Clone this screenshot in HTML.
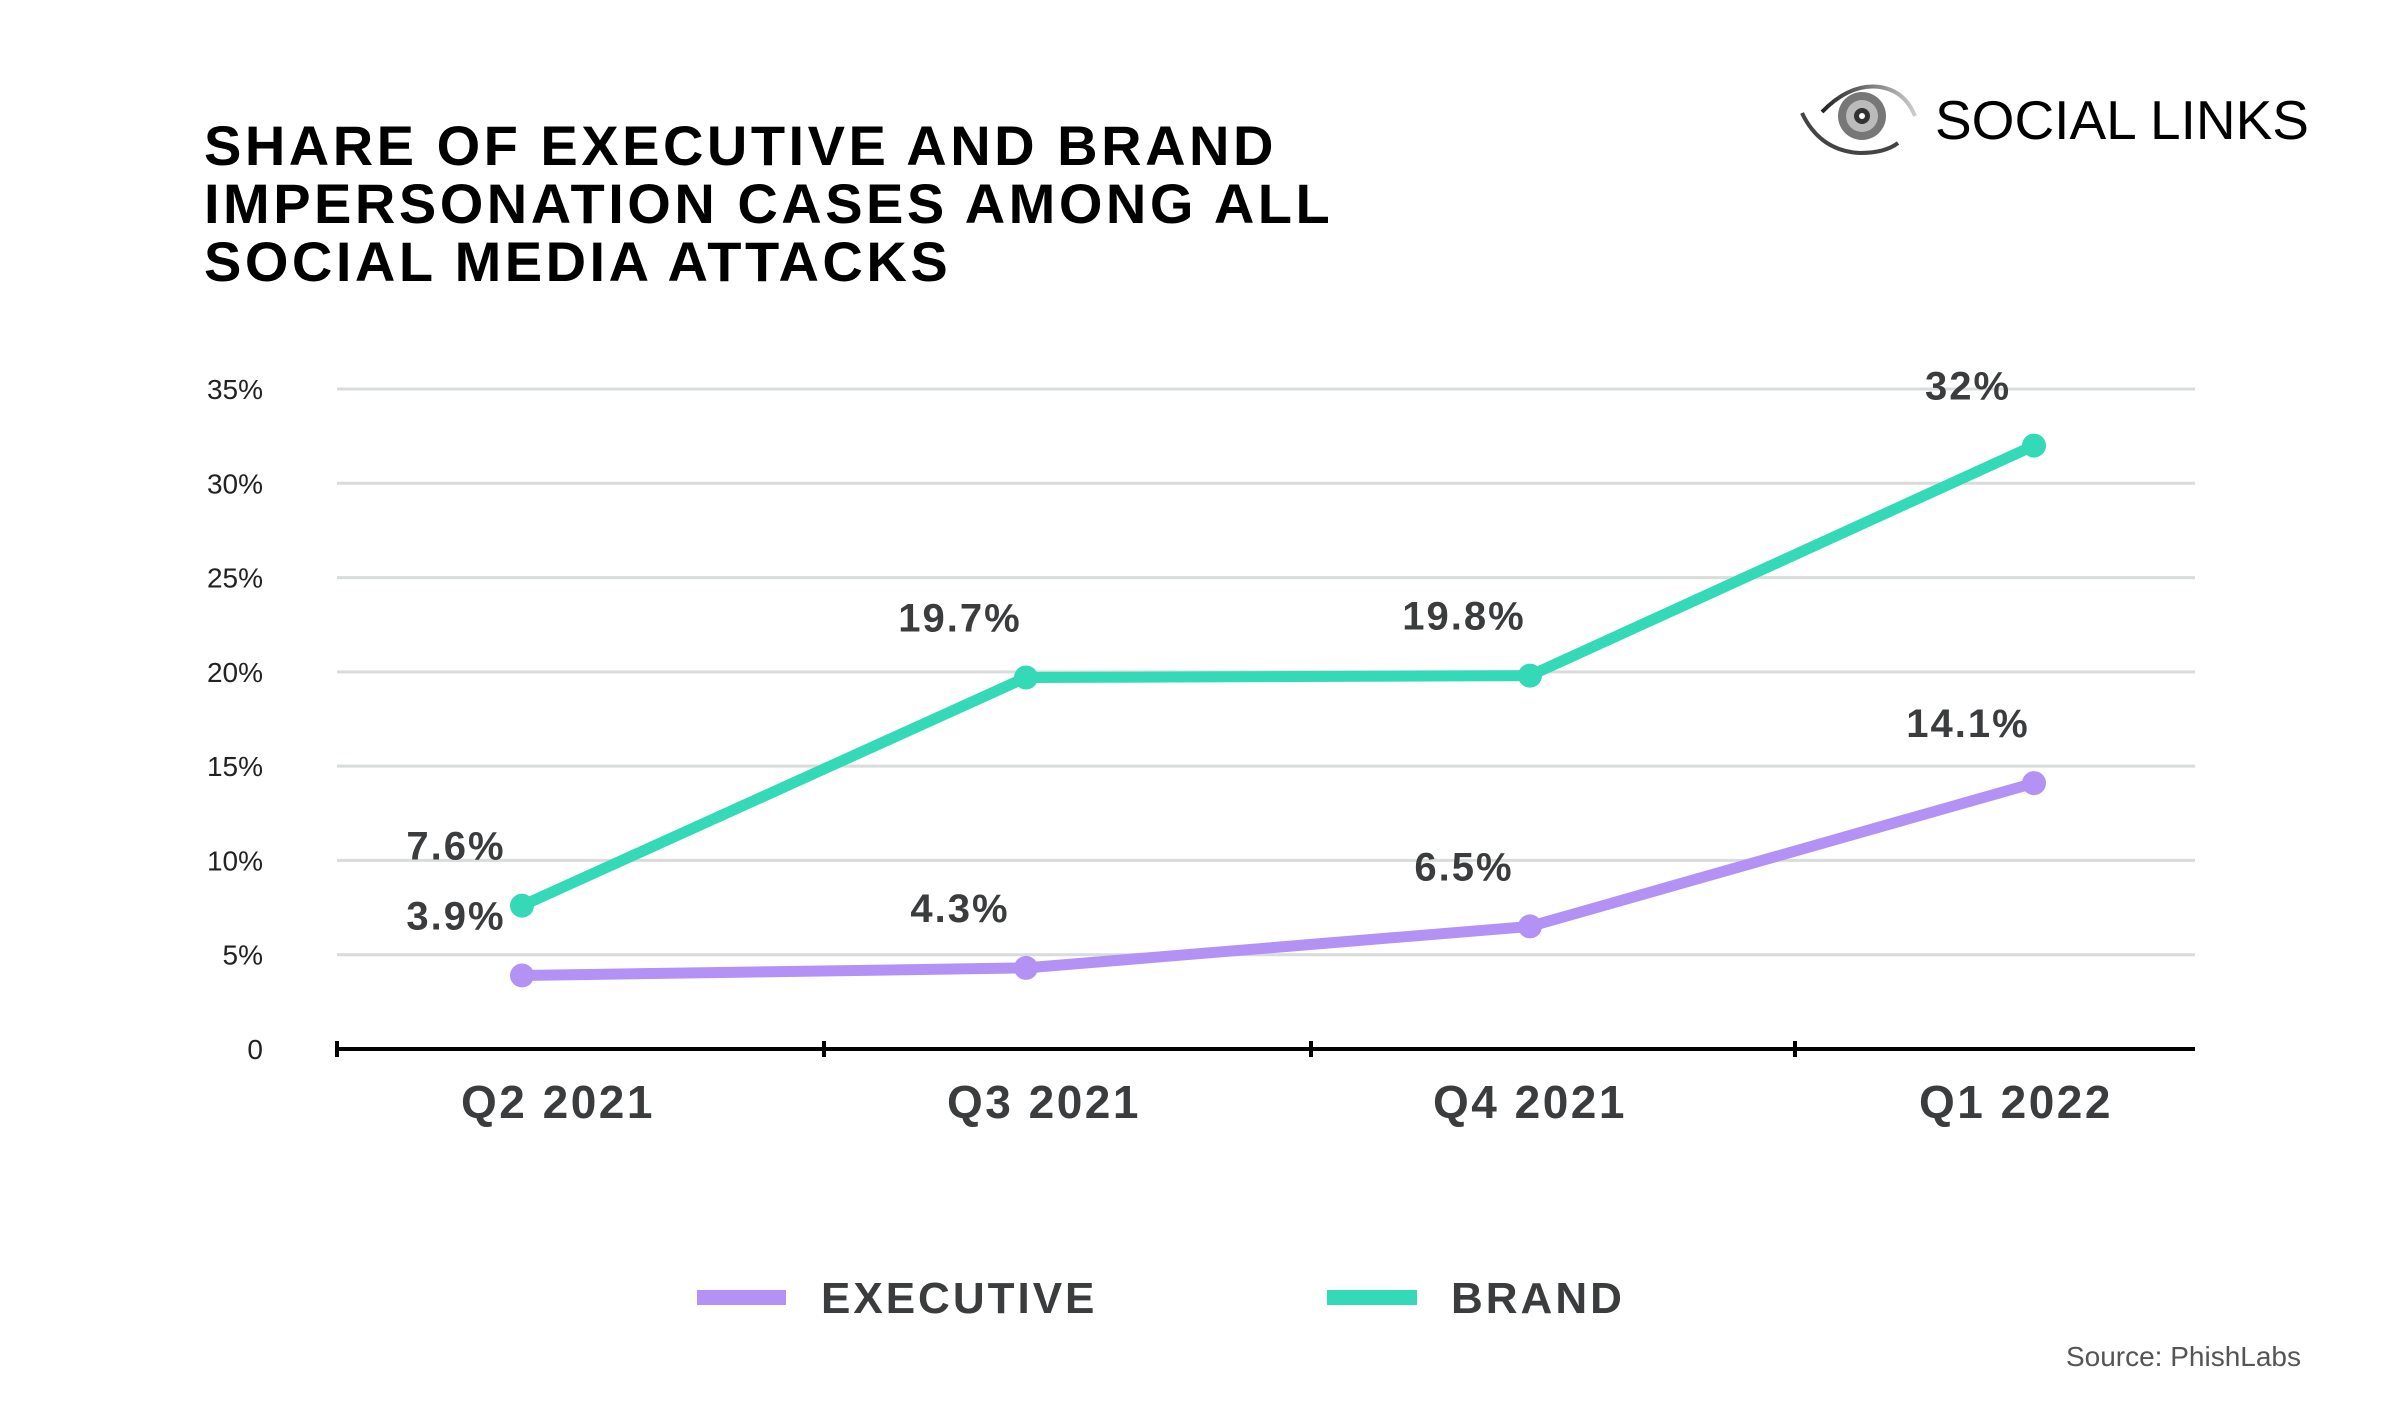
<!DOCTYPE html>
<html><head><meta charset="utf-8"><style>
body{margin:0;background:#fff;}
svg{display:block;font-family:"Liberation Sans",sans-serif;}
</style></head><body>
<svg width="2400" height="1422" viewBox="0 0 2400 1422">
<g font-weight="900" font-size="56" letter-spacing="3.5" fill="#000">
<text x="204" y="165">SHARE OF EXECUTIVE AND BRAND</text>
<text x="204" y="223">IMPERSONATION CASES AMONG ALL</text>
<text x="204" y="281">SOCIAL MEDIA ATTACKS</text>
</g>
<g>
<defs><linearGradient id="lg" x1="0" x2="1"><stop offset="0" stop-color="#222"/><stop offset="1" stop-color="#ccc"/></linearGradient></defs>
<path d="M1822 112 Q1850 83 1880 87 Q1905 91 1915 116" fill="none" stroke="url(#lg)" stroke-width="4"/>
<path d="M1802 113 Q1820 151 1860 153 Q1885 153 1898 143" fill="none" stroke="#444" stroke-width="4"/>
<circle cx="1862" cy="116" r="24" fill="#777"/>
<circle cx="1862" cy="116" r="16" fill="#bbb"/>
<circle cx="1862" cy="116" r="8" fill="#333"/>
<circle cx="1862" cy="116" r="3" fill="#fff"/>
<text x="1935" y="139" font-size="55" fill="#000">SOCIAL LINKS</text>
</g>
<g id="grid"></g>
<g id="yticks"></g>
<g id="xaxis"></g>
<g id="series"></g>
<g font-weight="900" font-size="44" letter-spacing="3" fill="#3a3c3d">
<rect x="697" y="1290" width="89" height="15" fill="#b391f5"/>
<text x="821" y="1313">EXECUTIVE</text>
<rect x="1327" y="1290" width="90" height="15" fill="#34d9b8"/>
<text x="1451" y="1313">BRAND</text>
</g>
<text x="2301" y="1366" text-anchor="end" font-size="28" fill="#555">Source: PhishLabs</text>
</svg>
<script>
const categories=["Q2 2021","Q3 2021","Q4 2021","Q1 2022"];
const executive=[3.9,4.3,6.5,14.1];
const brand=[7.6,19.7,19.8,32];
const execLabels=["3.9%","4.3%","6.5%","14.1%"];
const brandLabels=["7.6%","19.7%","19.8%","32%"];
const yTicks=[0,5,10,15,20,25,30,35];
const yTickLabels=["0","5%","10%","15%","20%","25%","30%","35%"];
const NS="http://www.w3.org/2000/svg";
const y=v=>1049-v*(660/35);
const x=i=>522+i*504;
const xl=i=>558+i*486;
function mk(t,a,p){const e=document.createElementNS(NS,t);for(const k in a)e.setAttribute(k,a[k]);p.appendChild(e);return e;}
const grid=document.getElementById('grid'),yt=document.getElementById('yticks'),xa=document.getElementById('xaxis'),se=document.getElementById('series');
yTicks.forEach((v,i)=>{
 if(v>0){const l=mk('line',{x1:337,x2:2195,y1:y(v),y2:y(v),stroke:'#d9dcdc','stroke-width':3},grid);
 
 }
 const t=mk('text',{x:263,y:y(v)+10,'text-anchor':'end','font-size':28,fill:'#222'},yt);t.textContent=yTickLabels[i];
 
 
});
const ax=mk('line',{x1:337,x2:2195,y1:1049,y2:1049,stroke:'#000','stroke-width':4},xa);


[337,824,1311,1795].forEach(tx=>{const tk=mk('line',{x1:tx,x2:tx,y1:1041,y2:1057,stroke:'#000','stroke-width':4},xa);
 
 });
categories.forEach((c,i)=>{const t=mk('text',{x:xl(i),y:1118,'text-anchor':'middle','font-size':46,'font-weight':900,'letter-spacing':2.5,fill:'#3a3c3d'},xa);t.textContent=c;
 
 });
function series(vals,labels,color,name){
 const g=mk('g',{},se);
 
 
 const p=mk('polyline',{points:vals.map((v,i)=>x(i)+','+y(v)).join(' '),fill:'none',stroke:color,'stroke-width':11,'stroke-linejoin':'round'},g);
 
 
 vals.forEach((v,i)=>{const c=mk('circle',{cx:x(i),cy:y(v),r:12,fill:color},g);
  
  
  const t=mk('text',{x:x(i)-66,y:y(v)-46,'text-anchor':'middle','font-size':40,'font-weight':900,'letter-spacing':2,fill:'#3a3c3d'},g);t.textContent=labels[i];
  
  });
}
series(brand,brandLabels,'#34d9b8','brand');
series(executive,execLabels,'#b391f5','executive');
</script>
</body></html>
